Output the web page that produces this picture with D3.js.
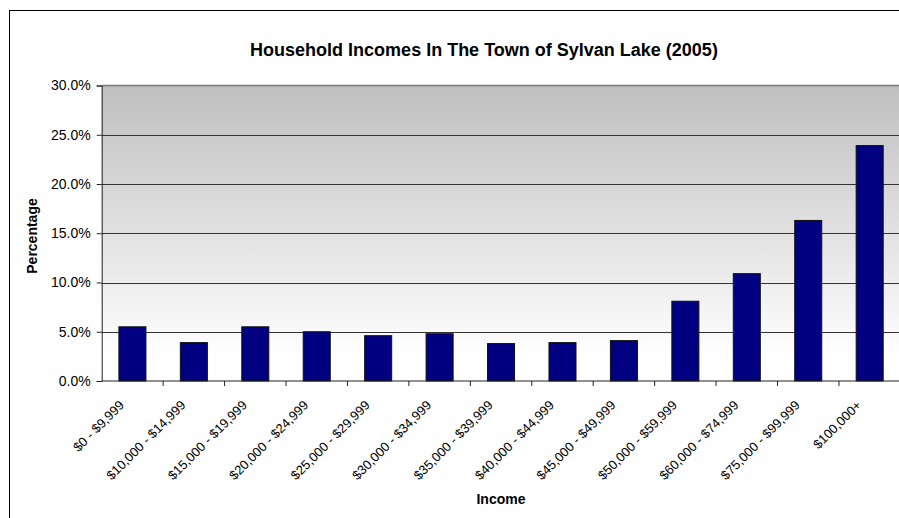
<!DOCTYPE html>
<html>
<head>
<meta charset="utf-8">
<script src="https://cdn.jsdelivr.net/npm/d3@7"></script>
<style>
  body { margin: 0; background: #fff; }
  svg { display: block; font-family: "Liberation Sans", Arial, sans-serif; }
</style>
</head>
<body>
<div id="chart"></div>
<script>
// data
var categories = ["$0 - $9,999", "$10,000 - $14,999", "$15,000 - $19,999", "$20,000 - $24,999",
  "$25,000 - $29,999", "$30,000 - $34,999", "$35,000 - $39,999", "$40,000 - $44,999",
  "$45,000 - $49,999", "$50,000 - $59,999", "$60,000 - $74,999", "$75,000 - $99,999", "$100,000+"];
var percentages = [5.5, 3.9, 5.5, 5.0, 4.6, 4.8, 3.8, 3.9, 4.1, 8.1, 10.9, 16.3, 23.9];
var yTicks = [0, 5, 10, 15, 20, 25, 30];

var svgWidth = 899, svgHeight = 518;
var plotLeft = 101.7, plotRight = 900.4, plotTop = 85.5, plotBottom = 381;

var svg = d3.select("#chart").append("svg")
  .attr("width", svgWidth)
  .attr("height", svgHeight);

// gradient for the plot area
var grad = svg.append("defs").append("linearGradient")
  .attr("id", "bg").attr("x1", 0).attr("y1", 0).attr("x2", 0).attr("y2", 1);
grad.append("stop").attr("offset", "0%").attr("stop-color", "#bfbfbf");
grad.append("stop").attr("offset", "92%").attr("stop-color", "#ffffff");
grad.append("stop").attr("offset", "100%").attr("stop-color", "#ffffff");

// outer chart border (cropped on the right and bottom)
svg.append("rect")
  .attr("x", 9.5).attr("y", 10.5)
  .attr("width", 920).attr("height", 540)
  .attr("fill", "#fff").attr("stroke", "#000");

var x = d3.scaleBand().domain(categories).range([plotLeft, plotRight]).padding(0);
var y = d3.scaleLinear().domain([0, 30]).range([plotBottom, plotTop]);

svg.append("rect")
  .attr("x", plotLeft).attr("y", plotTop)
  .attr("width", plotRight - plotLeft).attr("height", plotBottom - plotTop)
  .attr("fill", "url(#bg)");

// gridlines
svg.append("g").selectAll("line")
  .data(yTicks.filter(d => d > 0 && d < 30))
  .enter().append("line")
  .attr("x1", plotLeft).attr("x2", plotRight)
  .attr("y1", d => Math.round(y(d)) + 0.5).attr("y2", d => Math.round(y(d)) + 0.5)
  .attr("stroke", "#333").attr("stroke-width", 1);

svg.append("line")
  .attr("x1", plotLeft).attr("x2", plotRight)
  .attr("y1", y(30)).attr("y2", y(30))
  .attr("stroke", "#7a7a7a").attr("stroke-width", 1.5);

// bars
var barW = x.bandwidth() * 0.44;
svg.append("g").selectAll("rect")
  .data(percentages)
  .enter().append("rect")
  .attr("x", (d, i) => x(categories[i]) + (x.bandwidth() - barW) / 2)
  .attr("y", d => y(d))
  .attr("width", barW)
  .attr("height", d => y(0) - y(d))
  .attr("fill", "#000080")
  .attr("stroke", "#111")
  .attr("stroke-width", 1);

// y axis
var yAxis = svg.append("g")
  .attr("transform", "translate(" + plotLeft + ",0)")
  .call(d3.axisLeft(y).tickValues(yTicks).tickSize(5).tickPadding(6)
    .tickFormat(d => d.toFixed(1) + "%"));
yAxis.select(".domain").attr("stroke", "#222");
yAxis.selectAll(".tick line").attr("stroke", "#222");
yAxis.selectAll("text").style("font-size", "14px").attr("fill", "#000")
  .style("font-family", "'Liberation Sans', Arial, sans-serif");

// x axis line and ticks at category boundaries
svg.append("line")
  .attr("x1", plotLeft).attr("x2", plotRight)
  .attr("y1", plotBottom).attr("y2", plotBottom)
  .attr("stroke", "#222");
svg.append("g").selectAll("line")
  .data(categories.slice(1))
  .enter().append("line")
  .attr("x1", d => x(d)).attr("x2", d => x(d))
  .attr("y1", plotBottom).attr("y2", plotBottom + 5)
  .attr("stroke", "#222");

// x labels, rotated
svg.append("g").selectAll("text")
  .data(categories)
  .enter().append("text")
  .attr("transform", d => "translate(" + (x(d) + x.bandwidth() / 2 - 7.5) + ",406) rotate(-45)")
  .attr("text-anchor", "end")
  .attr("fill", "#000")
  .style("font-size", "13px")
  .text(d => d);

// titles
svg.append("text")
  .attr("x", 484).attr("y", 55.5)
  .attr("text-anchor", "middle")
  .style("font-size", "18px").style("font-weight", "bold")
  .text("Household Incomes In The Town of Sylvan Lake (2005)");

svg.append("text")
  .attr("x", 501).attr("y", 504)
  .attr("text-anchor", "middle")
  .style("font-size", "14px").style("font-weight", "bold")
  .text("Income");

svg.append("text")
  .attr("transform", "translate(36.5,236) rotate(-90)")
  .attr("text-anchor", "middle")
  .style("font-size", "14px").style("font-weight", "bold")
  .text("Percentage");
</script>
</body>
</html>
